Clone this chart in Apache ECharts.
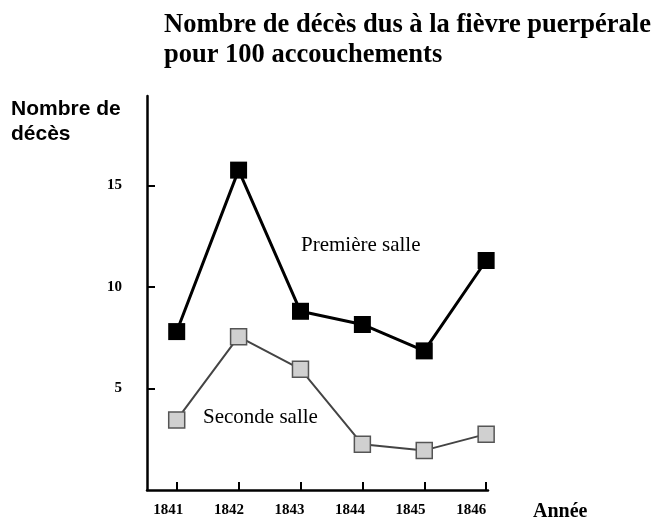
<!DOCTYPE html>
<html>
<head>
<meta charset="utf-8">
<script src="https://cdn.jsdelivr.net/npm/echarts@6/dist/echarts.min.js"></script>
<style>
  html, body { margin: 0; padding: 0; background: #fff; }
  #chart { width: 659px; height: 522px; }
</style>
</head>
<body>
<div id="chart"></div>
<script>
// années et taux de décès (pour 100 accouchements)
const years = [1841, 1842, 1843, 1844, 1845, 1846];
const premiereSalle = [7.8, 15.75, 8.8, 8.15, 6.85, 11.3];
const secondeSalle = [3.45, 7.55, 5.95, 2.25, 1.95, 2.75];
const yTicks = [5, 10, 15];

const serif = "'Liberation Serif', 'Times New Roman', serif";
const sans = "'Liberation Sans', Arial, sans-serif";

const chart = echarts.init(document.getElementById('chart'));

const labelFont = {
    fontFamily: serif,
    fontWeight: 'bold',
    fontSize: 15,
    color: '#000'
};

const option = {
    animation: false,
    title: {
        text: 'Nombre de décès dus à la fièvre puerpérale\npour 100 accouchements',
        left: 164,
        top: 10,
        padding: 0,
        textStyle: {
            fontFamily: serif,
            fontWeight: 'bold',
            fontSize: 26.5,
            lineHeight: 30,
            color: '#000'
        }
    },
    grid: { left: 147, right: 171, top: 96, bottom: 30 },
    xAxis: [
        {
            type: 'value',
            min: 1840.52,
            max: 1846.03,
            splitLine: { show: false },
            axisLine: { lineStyle: { color: '#000', width: 2.5 } },
            axisTick: { inside: true, length: 8, customValues: years, lineStyle: { color: '#000', width: 2 } },
            axisLabel: { show: false },
            name: 'Année',
            nameLocation: 'end',
            nameGap: 45,
            nameTextStyle: {
                fontFamily: serif,
                fontWeight: 'bold',
                fontSize: 20,
                color: '#000',
                align: 'left',
                verticalAlign: 'top',
                padding: [12, 0, 0, 0]
            }
        },
        {
            // les étiquettes des années sont un peu décalées vers la gauche dans l'original
            type: 'value',
            position: 'bottom',
            min: 1840.648,
            max: 1846.278,
            splitLine: { show: false },
            axisLine: { show: false },
            axisTick: { show: false },
            axisLabel: Object.assign({
                customValues: years,
                formatter: v => String(v),
                margin: 13
            }, labelFont)
        }
    ],
    yAxis: {
        type: 'value',
        min: 0,
        max: 19.4,
        splitLine: { show: false },
        axisLine: { lineStyle: { color: '#000', width: 2.5 } },
        axisTick: { inside: true, length: 8, customValues: yTicks, lineStyle: { color: '#000', width: 2 } },
        axisLabel: Object.assign({
            customValues: yTicks,
            margin: 25,
            padding: [0, 0, 7, 0]
        }, labelFont)
    },
    graphic: [
        {
            type: 'text',
            left: 11,
            top: 97,
            style: {
                text: 'Nombre de\ndécès',
                font: 'bold 21px ' + sans,
                lineHeight: 25,
                fill: '#000'
            }
        },
        {
            type: 'text',
            left: 301,
            top: 235,
            style: { text: 'Première salle', font: '21px ' + serif, fill: '#000' }
        },
        {
            type: 'text',
            left: 203,
            top: 407,
            style: { text: 'Seconde salle', font: '21px ' + serif, fill: '#000' }
        }
    ],
    series: [
        {
            name: 'Seconde salle',
            type: 'line',
            data: years.map((y, i) => [y, secondeSalle[i]]),
            symbol: 'rect',
            symbolSize: 16,
            showAllSymbol: true,
            itemStyle: { color: '#d0d0d0', borderColor: '#555', borderWidth: 1.5 },
            lineStyle: { color: '#444', width: 2 }
        },
        {
            name: 'Première salle',
            type: 'line',
            data: years.map((y, i) => [y, premiereSalle[i]]),
            symbol: 'rect',
            symbolSize: 17,
            showAllSymbol: true,
            itemStyle: { color: '#000' },
            lineStyle: { color: '#000', width: 3 }
        }
    ]
};

chart.setOption(option);
</script>
</body>
</html>
